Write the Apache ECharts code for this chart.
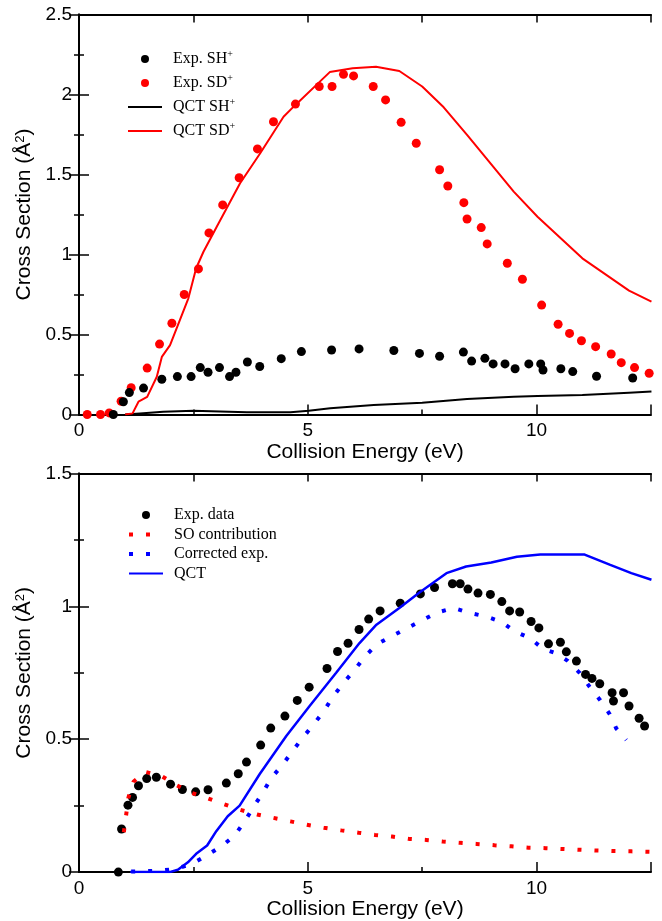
<!DOCTYPE html>
<html><head><meta charset="utf-8">
<script src="https://cdn.jsdelivr.net/npm/echarts@6/dist/echarts.min.js"></script>
<style>html,body{margin:0;padding:0;background:#fff}#c{width:662px;height:921px}</style>
</head><body><div id="c"></div>
<script>
// ---------- Top panel data ----------
const expSH = [[0.75,0],[0.97,0.08],[1.10,0.137],[1.41,0.165],[1.81,0.22],[2.15,0.237],[2.45,0.237],[2.65,0.293],[2.82,0.264],[3.07,0.293],[3.29,0.237],[3.43,0.264],[3.68,0.328],[3.95,0.30],[4.42,0.349],[4.86,0.393],[5.52,0.403],[6.12,0.41],[6.88,0.40],[7.44,0.382],[7.88,0.364],[8.40,0.39],[8.58,0.334],[8.87,0.351],[9.05,0.316],[9.31,0.316],[9.53,0.286],[9.83,0.316],[10.09,0.316],[10.14,0.278],[10.53,0.286],[10.79,0.268],[11.31,0.239],[12.10,0.228]];
const expSD = [[0.18,0],[0.47,0],[0.66,0.01],[0.92,0.083],[1.14,0.167],[1.49,0.29],[1.76,0.44],[2.03,0.57],[2.30,0.75],[2.61,0.91],[2.84,1.135],[3.14,1.31],[3.50,1.48],[3.90,1.66],[4.25,1.83],[4.73,1.94],[5.25,2.05],[5.53,2.05],[5.78,2.126],[6.0,2.116],[6.43,2.05],[6.7,1.966],[7.04,1.826],[7.37,1.695],[7.88,1.53],[8.06,1.428],[8.41,1.324],[8.48,1.222],[8.79,1.168],[8.92,1.066],[9.36,0.945],[9.69,0.845],[10.11,0.684],[10.47,0.564],[10.72,0.507],[10.98,0.461],[11.29,0.424],[11.63,0.378],[11.85,0.324],[12.14,0.293],[12.46,0.258]];
const qctSH = [[1.01,0],[1.33,0.007],[1.84,0.017],[2.50,0.024],[3.67,0.014],[4.62,0.014],[5.02,0.024],[5.49,0.039],[6.44,0.059],[7.5,0.074],[8.48,0.097],[9.5,0.111],[10.02,0.116],[11.0,0.122],[12.02,0.136],[12.51,0.143]];
const qctSD = [[1.01,0],[1.17,0.007],[1.30,0.08],[1.49,0.11],[1.70,0.236],[1.81,0.36],[1.99,0.434],[2.39,0.726],[2.56,0.914],[2.72,1.017],[3.01,1.174],[3.52,1.445],[3.96,1.633],[4.47,1.861],[4.69,1.924],[5.48,2.14],[5.98,2.164],[6.49,2.174],[7.0,2.147],[7.5,2.05],[7.97,1.92],[8.48,1.747],[9.50,1.393],[10.02,1.236],[11.0,0.976],[12.02,0.774],[12.51,0.705]];

// ---------- Bottom panel data ----------
const expData = [[0.86,0],[0.93,0.162],[1.07,0.252],[1.17,0.281],[1.30,0.325],[1.48,0.352],[1.69,0.357],[2.0,0.331],[2.26,0.311],[2.55,0.302],[2.82,0.31],[3.22,0.335],[3.48,0.37],[3.66,0.414],[3.97,0.478],[4.19,0.542],[4.50,0.587],[4.77,0.646],[5.03,0.696],[5.42,0.766],[5.65,0.83],[5.88,0.861],[6.12,0.913],[6.33,0.952],[6.58,0.983],[7.02,1.012],[7.46,1.047],[7.77,1.071],[8.16,1.085],[8.33,1.085],[8.50,1.065],[8.72,1.05],[8.99,1.045],[9.24,1.018],[9.41,0.983],[9.63,0.979],[9.88,0.943],[10.05,0.919],[10.26,0.859],[10.52,0.865],[10.65,0.829],[10.87,0.794],[11.07,0.744],[11.21,0.729],[11.38,0.709],[11.65,0.675],[11.68,0.644],[11.90,0.675],[12.02,0.625],[12.24,0.579],[12.36,0.55]];
const soContribution = [[0.98,0.15],[1.08,0.28],[1.19,0.34],[1.45,0.377],[1.8,0.362],[2.12,0.328],[2.46,0.298],[2.82,0.277],[3.16,0.256],[3.51,0.235],[3.89,0.217],[4.25,0.204],[4.62,0.191],[4.98,0.178],[5.35,0.167],[5.73,0.157],[6.11,0.148],[6.47,0.14],[6.84,0.134],[7.21,0.125],[7.59,0.121],[7.95,0.115],[8.33,0.11],[8.69,0.106],[9.08,0.101],[9.45,0.097],[9.82,0.092],[10.2,0.09],[10.57,0.087],[10.94,0.084],[11.32,0.081],[11.7,0.079],[12.07,0.078],[12.5,0.076]];
const correctedExp = [[1.14,0.002],[1.74,0.005],[2.11,0.012],[2.47,0.031],[2.78,0.062],[3.11,0.097],[3.40,0.137],[3.62,0.191],[3.81,0.244],[4.02,0.30],[4.21,0.356],[4.44,0.402],[4.66,0.454],[4.89,0.506],[5.13,0.556],[5.35,0.606],[5.55,0.66],[5.77,0.71],[6.02,0.76],[6.24,0.81],[6.50,0.856],[6.82,0.887],[7.15,0.916],[7.49,0.947],[7.83,0.977],[8.19,0.994],[8.54,0.975],[8.9,0.962],[9.24,0.941],[9.52,0.906],[9.86,0.88],[10.14,0.84],[10.43,0.823],[10.68,0.795],[10.94,0.75],[11.16,0.697],[11.39,0.647],[11.6,0.594],[11.74,0.541],[11.96,0.497]];
const qctBottom = [[1.12,0],[1.98,0],[2.16,0.009],[2.38,0.037],[2.56,0.069],[2.8,0.1],[3.0,0.154],[3.25,0.21],[3.51,0.25],[3.95,0.369],[4.53,0.512],[5.04,0.625],[5.62,0.75],[6.13,0.862],[6.5,0.931],[7.0,0.994],[7.44,1.052],[8.03,1.125],[8.46,1.15],[9.01,1.165],[9.57,1.187],[10.08,1.195],[11.05,1.195],[11.61,1.156],[12.07,1.125],[12.51,1.1]];

// ---------- Axes / labels ----------
const xLabelValues = [0, 5, 10];
const xRange = [0, 12.5];
const topYRange = [0, 2.5];
const bottomYRange = [0, 1.5];
const xTitle = 'Collision Energy (eV)';
const yTitle = 'Cross Section (Å{sup|2})';
const topLegend = ['Exp. SH+', 'Exp. SD+', 'QCT SH+', 'QCT SD+'];
const bottomLegend = ['Exp. data', 'SO contribution', 'Corrected exp.', 'QCT'];
const lineSeriesNames = ['QCT SH+', 'QCT SD+', 'QCT'];
const dottedSeriesNames = ['SO contribution', 'Corrected exp.'];

const SANS = 'Liberation Sans';
const SERIF = 'Liberation Serif';
const axisLine = {show: true, lineStyle: {color: '#000', width: 2}};
const tickStyle = {color: '#000', width: 1.5};
const dottedStyle = {width: 4, type: [4, 13], cap: 'butt'};

function xAxesFor(grid) {
  return [
    {gridIndex: grid, type: 'value', position: 'bottom', min: xRange[0], max: xRange[1], interval: 5,
     axisLine, splitLine: {show: false},
     axisTick: {show: true, inside: true, length: 10, lineStyle: tickStyle},
     axisLabel: {color: '#000', fontFamily: SANS, fontSize: 19, margin: 7,
       formatter: v => xLabelValues.includes(v) ? String(v) : ''},
     name: xTitle, nameLocation: 'middle', nameGap: 23,
     nameTextStyle: {color: '#000', fontFamily: SANS, fontSize: 21}},
    {gridIndex: grid, type: 'value', position: 'bottom', min: xRange[0], max: xRange[1], interval: 2.5,
     axisLine: {show: false}, splitLine: {show: false}, axisLabel: {show: false},
     axisTick: {show: true, inside: true, length: 5, lineStyle: tickStyle}},
    {gridIndex: grid, type: 'value', position: 'top', min: xRange[0], max: xRange[1], interval: 2.5,
     axisLine, splitLine: {show: false}, axisLabel: {show: false},
     axisTick: {show: true, inside: true, length: 8, lineStyle: tickStyle}}
  ];
}
function yAxesFor(grid, range) {
  const base = {gridIndex: grid, type: 'value', min: range[0], max: range[1], interval: 0.5,
    axisLine, splitLine: {show: false},
    axisTick: {show: true, inside: true, length: 10, lineStyle: tickStyle},
    minorTick: {show: true, splitNumber: 2, length: 5, lineStyle: tickStyle}};
  return [
    Object.assign({}, base, {position: 'left',
      axisLabel: {color: '#000', fontFamily: SANS, fontSize: 19, margin: 7},
      name: yTitle, nameLocation: 'middle', nameGap: 36,
      nameTextStyle: {color: '#000', fontFamily: SANS, fontSize: 21,
        rich: {sup: {fontFamily: SANS, fontSize: 13, lineHeight: 8, verticalAlign: 'top', color: '#000'}}}}),
    Object.assign({}, base, {position: 'right', axisLabel: {show: false}})
  ];
}
const supFmt = n => n.endsWith('+') ? n.slice(0, -1) + '{sup|+}' : n;
function legendFor(names, top, lh, gap) {
  const data = names.map(n => {
    if (lineSeriesNames.includes(n)) return {name: n, itemStyle: {opacity: 0}};
    if (dottedSeriesNames.includes(n)) return {name: n, itemStyle: {opacity: 0}, lineStyle: dottedStyle};
    return {name: n};
  });
  return {data, orient: 'vertical', left: 127, top, padding: 0, itemWidth: 34, itemHeight: 8, itemGap: gap,
    selectedMode: false, formatter: supFmt,
    textStyle: {color: '#000', fontFamily: SERIF, fontSize: 16, lineHeight: lh, padding: [0, 0, 0, 6],
      rich: {sup: {color: '#000', fontFamily: SERIF, fontSize: 10, lineHeight: 6, verticalAlign: 'top'}}}};
}
const dot = c => ({color: c, opacity: 1});

const chart = echarts.init(document.getElementById('c'), null, {renderer: 'canvas'});
chart.setOption({
  animation: false,
  backgroundColor: '#fff',
  grid: [
    {left: 79, top: 14.5, width: 572, height: 400},
    {left: 79, top: 473.5, width: 572, height: 400}
  ],
  xAxis: [...xAxesFor(0), ...xAxesFor(1)],
  yAxis: [...yAxesFor(0, topYRange), ...yAxesFor(1, bottomYRange)],
  legend: [legendFor(topLegend, 49, 20, 4), legendFor(bottomLegend, 506.5, 17, 2.5)],
  series: [
    {name: 'QCT SH+', type: 'line', xAxisIndex: 0, yAxisIndex: 0, data: qctSH, symbol: 'none',
     lineStyle: {color: '#000', width: 2}, itemStyle: {color: '#000'}},
    {name: 'QCT SD+', type: 'line', xAxisIndex: 0, yAxisIndex: 0, data: qctSD, symbol: 'none',
     lineStyle: {color: '#ff0000', width: 2}, itemStyle: {color: '#ff0000'}},
    {name: 'Exp. SD+', type: 'scatter', xAxisIndex: 0, yAxisIndex: 0, data: expSD, symbol: 'circle', symbolSize: 9,
     itemStyle: dot('#ff0000')},
    {name: 'Exp. SH+', type: 'scatter', xAxisIndex: 0, yAxisIndex: 0, data: expSH, symbol: 'circle', symbolSize: 9,
     itemStyle: dot('#000')},

    {name: 'QCT', type: 'line', xAxisIndex: 3, yAxisIndex: 2, data: qctBottom, symbol: 'none',
     lineStyle: {color: '#0000ff', width: 2.5}, itemStyle: {color: '#0000ff'}},
    {name: 'Exp. data', type: 'scatter', xAxisIndex: 3, yAxisIndex: 2, data: expData, symbol: 'circle', symbolSize: 9,
     itemStyle: dot('#000')},
    {name: 'SO contribution', type: 'line', xAxisIndex: 3, yAxisIndex: 2, data: soContribution, symbol: 'none',
     lineStyle: Object.assign({color: '#ff0000'}, dottedStyle), itemStyle: {color: '#ff0000'}},
    {name: 'Corrected exp.', type: 'line', xAxisIndex: 3, yAxisIndex: 2, data: correctedExp, symbol: 'none',
     lineStyle: Object.assign({color: '#0000ff'}, dottedStyle), itemStyle: {color: '#0000ff'}}
  ]
});
</script></body></html>
